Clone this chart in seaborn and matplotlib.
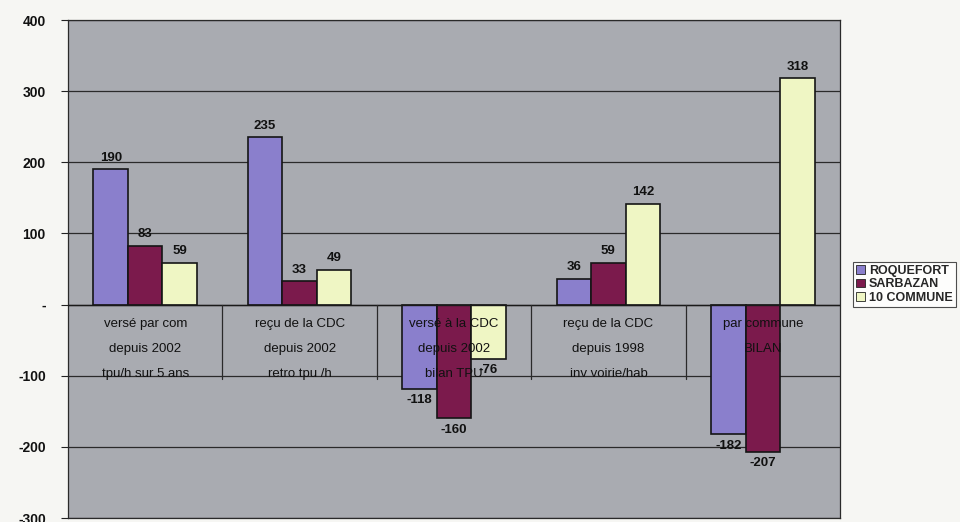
import numpy as np
import pandas as pd
import matplotlib
matplotlib.use("Agg")
import matplotlib.pyplot as plt
import seaborn as sns

# Category labels (three lines each) and series values
categories = [
    "versé par com\ndepuis 2002\ntpu/h sur 5 ans",
    "reçu de la CDC\ndepuis 2002\nretro tpu /h",
    "versé à la CDC\ndepuis 2002\nbilan TPU",
    "reçu de la CDC\ndepuis 1998\ninv voirie/hab",
    "par commune\nBILAN\n",
]
series = ["ROQUEFORT", "SARBAZAN", "10 COMMUNE"]
roquefort = [190, 235, -118, 36, -182]
sarbazan = [83, 33, -160, 59, -207]
dix_communes = [59, 49, -76, 142, 318]
y_ticks = [400, 300, 200, 100, 0, -100, -200, -300]
y_tick_labels = ["400", "300", "200", "100", "-", "-100", "-200", "-300"]

colors = ["#8a7fcc", "#7b1a4c", "#eff6c4"]

df = pd.DataFrame({
    "cat": np.repeat(np.arange(len(categories)), len(series)),
    "serie": series * len(categories),
    "val": [v for trio in zip(roquefort, sarbazan, dix_communes) for v in trio],
})

sns.set_theme(style="white")
plt.rcParams["font.family"] = ["Liberation Sans", "DejaVu Sans"]

fig = plt.figure(figsize=(9.6, 5.22), dpi=100, facecolor="#f6f6f3")
ax = fig.add_axes([68 / 960, 1 - 518 / 522, (840 - 68) / 960, (518 - 20) / 522])
ax.set_facecolor("#a9abb1")

sns.barplot(data=df, x="cat", y="val", hue="serie", hue_order=series,
            palette=colors, width=0.67, edgecolor="#151515", linewidth=1.2,
            saturation=1, ax=ax, zorder=3)

ax.set_ylim(-300, 400)
ax.set_xlim(-0.5, len(categories) - 0.5)
ax.set_yticks(y_ticks)
ax.set_yticklabels(y_tick_labels, fontsize=10, fontweight="bold", color="#111111")
ax.tick_params(axis="y", length=5, width=0.8, color="#222222", pad=11, direction="out", left=True)
ax.set_xticks([])
ax.set_xlabel("")
ax.set_ylabel("")

# Horizontal grid lines
for t in y_ticks:
    ax.axhline(t, color="#2a2a2a", lw=0.9, zorder=1)
ax.axhline(0, color="#1a1a1a", lw=1.0, zorder=4)

for s in ax.spines.values():
    s.set_color("#2a2a2a")
    s.set_linewidth(0.9)

# Separators between the categories, below the zero axis
for b in np.arange(0.5, len(categories) - 0.5, 1.0):
    ax.plot([b, b], [0, -105], color="#2a2a2a", lw=0.9, zorder=4)

# Category text, three lines inside the band below zero
for i, lab in enumerate(categories):
    for j, line in enumerate(lab.split("\n")):
        if line:
            ax.text(i, -27 - 35 * j, line, ha="center", va="center",
                    fontsize=9.5, color="#111111", zorder=5)

# Value labels
for cont in ax.containers:
    ax.bar_label(cont, fmt="%d", padding=4, fontsize=9.5, fontweight="bold",
                 color="#111111", zorder=6)

leg = ax.legend(loc="upper left", bbox_to_anchor=(853 / 960, 1 - 262 / 522),
                bbox_transform=fig.transFigure, frameon=True, fancybox=False,
                handlelength=0.7, handleheight=0.7, handletextpad=0.3,
                borderpad=0.25, labelspacing=0.1, fontsize=9, borderaxespad=0)
leg.get_frame().set_edgecolor("#222222")
leg.get_frame().set_facecolor("white")
leg.get_frame().set_linewidth(0.8)
for t in leg.get_texts():
    t.set_fontweight("bold")
for h in leg.legend_handles:
    h.set_edgecolor("#222222")
    h.set_linewidth(0.6)

fig.savefig("out.png", dpi=100, facecolor=fig.get_facecolor())
